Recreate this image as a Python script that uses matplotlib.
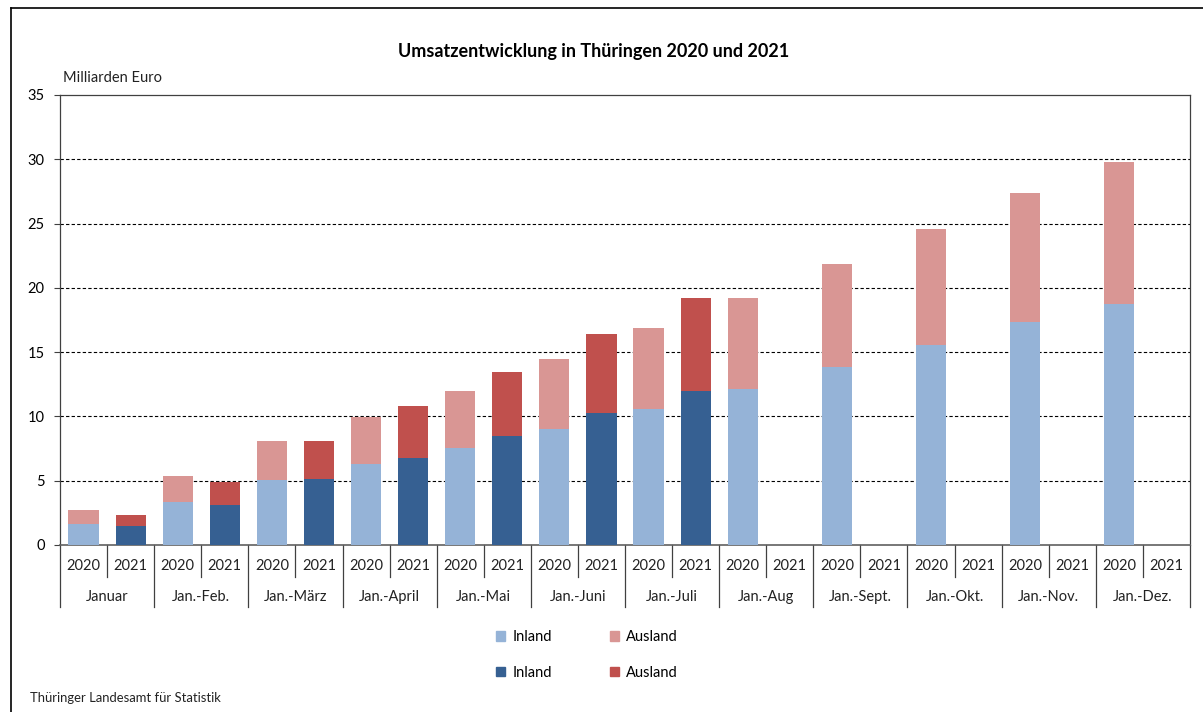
import numpy as np
import matplotlib.pyplot as plt
from matplotlib.patches import Patch
from matplotlib.lines import Line2D

plt.rcParams['font.family'] = ['Lato', 'DejaVu Sans']

months = ['Januar', 'Jan.-Feb.', 'Jan.-März', 'Jan.-April', 'Jan.-Mai', 'Jan.-Juni',
          'Jan.-Juli', 'Jan.-Aug', 'Jan.-Sept.', 'Jan.-Okt.', 'Jan.-Nov.', 'Jan.-Dez.']
years = ['2020', '2021']

# Milliarden Euro, kumuliert
inland_2020 = [1.67, 3.31, 5.05, 6.28, 7.55, 9.06, 10.60, 12.12, 13.81, 15.57, 17.33, 18.78]
ausland_2020 = [1.04, 2.03, 3.02, 3.67, 4.43, 5.39, 6.29, 7.08, 8.06, 8.99, 10.08, 11.01]
inland_2021 = [1.48, 3.13, 5.10, 6.77, 8.44, 10.30, 11.97]
ausland_2021 = [0.89, 1.79, 2.97, 4.03, 5.00, 6.12, 7.23]

c_in20, c_aus20 = '#95B3D7', '#D99694'
c_in21, c_aus21 = '#366092', '#C0504D'

W, H = 1203, 712
fig = plt.figure(figsize=(W / 100, H / 100), dpi=100)
ax = fig.add_axes([60 / W, (H - 545) / H, (1190 - 60) / W, 450 / H])

n = len(months)
x20 = np.arange(n) * 2 + 0.5
x21 = np.arange(len(inland_2021)) * 2 + 1.5
bw = 0.64

ax.bar(x20, inland_2020, bw, color=c_in20, zorder=3)
ax.bar(x20, ausland_2020, bw, bottom=inland_2020, color=c_aus20, zorder=3)
ax.bar(x21, inland_2021, bw, color=c_in21, zorder=3)
ax.bar(x21, ausland_2021, bw, bottom=inland_2021, color=c_aus21, zorder=3)

ax.set_xlim(0, 2 * n)
ax.set_ylim(0, 35)
ax.set_yticks(range(0, 36, 5))
ax.tick_params(axis='y', length=4, width=0.8, labelsize=10.5, pad=7, color='#404040')
ax.set_xticks([])
for y in range(5, 35, 5):
    ax.axhline(y, color='black', lw=0.8, ls=(0, (3, 2)), zorder=1)

for s in ['left', 'right', 'top']:
    ax.spines[s].set_color('#404040')
    ax.spines[s].set_linewidth(0.9)
ax.spines['bottom'].set_color('#606060')
ax.spines['bottom'].set_linewidth(1.2)

# zweistufige Kategorieachse
tr = ax.get_xaxis_transform()
y_short = -31.7 / 450
y_long = -62.0 / 450
for i, m in enumerate(months):
    for j, yr in enumerate(years):
        ax.text(2 * i + j + 0.5, -21 / 450, yr, transform=tr, ha='center', va='center',
                fontsize=10.5, color='#222222')
    ax.text(2 * i + 1, -52 / 450, m, transform=tr, ha='center', va='center',
            fontsize=10.5, color='#222222')
    ax.add_line(Line2D([2 * i + 1, 2 * i + 1], [0, y_short], transform=tr,
                       color='#404040', lw=0.9, clip_on=False))
    ax.add_line(Line2D([2 * i, 2 * i], [0, y_long], transform=tr,
                       color='#404040', lw=0.9, clip_on=False))
ax.add_line(Line2D([2 * n, 2 * n], [0, y_long], transform=tr,
                   color='#404040', lw=0.9, clip_on=False))

ax.text(0.003, 1 + 17 / 450, 'Milliarden Euro', transform=ax.transAxes, ha='left', va='center',
        fontsize=10.5, color='#222222')

fig.text(594 / W, 1 - 52 / H, 'Umsatzentwicklung in Thüringen 2020 und 2021',
         ha='center', va='center', fontsize=13, fontweight='bold')

handles = [Patch(color=c_in20), Patch(color=c_in21), Patch(color=c_aus20), Patch(color=c_aus21)]
labels = ['Inland', 'Inland', 'Ausland', 'Ausland']
fig.legend(handles, labels, ncol=2, loc='center', bbox_to_anchor=(587 / W, 1 - 655 / H),
           frameon=False, fontsize=10.5, handlelength=0.6, handleheight=0.6,
           handletextpad=0.5, columnspacing=4.0, labelspacing=1.5)

fig.text(30 / W, 14 / H, 'Thüringer Landesamt für Statistik', ha='left', va='center',
         fontsize=9.4, color='#222222')

# Rahmen
fig.add_artist(Line2D([10.5 / W, 1.0], [1 - 7.5 / H, 1 - 7.5 / H], color='black', lw=1.2))
fig.add_artist(Line2D([10.5 / W, 10.5 / W], [0, 1 - 7.5 / H], color='black', lw=1.2))

fig.savefig('out.png', dpi=100)
